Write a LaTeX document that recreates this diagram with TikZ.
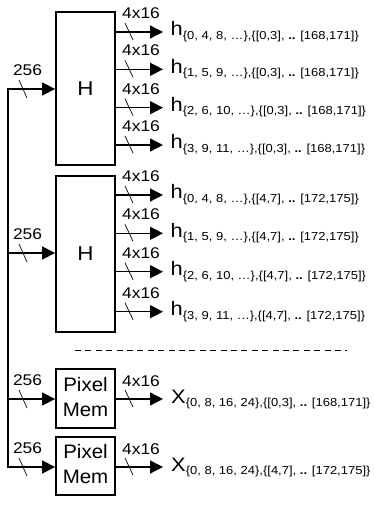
\documentclass[tikz,border=0pt]{standalone}
\usepackage{fontspec}
\setmainfont{Liberation Sans}
\usepackage{graphicx}
\usetikzlibrary{arrows.meta}
\newcommand\wide[1]{\scalebox{1.12}[1]{#1}}
\newcommand\sigtext[3]{\wide{{\fontsize{19.5}{20}\selectfont #1}\raisebox{-3.3pt}{\fontsize{11.6}{12}\selectfont\{#2\},\{#3\}}}}
\begin{document}
\begin{tikzpicture}[x=1pt,y=-1pt,
  box/.style={draw, line width=1.8pt, inner sep=0, minimum width=59pt},
  arr/.style={line width=1.4pt, -{Triangle[length=13pt,width=13pt]}},
  slash/.style={line width=0.7pt},
  lbl/.style={inner sep=0, font=\fontsize{15.5}{15.5}\selectfont},
  sig/.style={inner sep=0, anchor=base west},
  sep/.style={line width=0.8pt, dash pattern=on 6pt off 4.4pt},
]
\useasboundingbox (0,0) rectangle (373,510);

% blocks
\node[box, minimum height=153pt] (H1) at (85.5,88.5) {\wide{\fontsize{20}{20}\selectfont H}};
\node[box, minimum height=156pt] (H2) at (85.5,254) {\wide{\fontsize{20}{20}\selectfont H}};
\node[box, minimum height=59pt] (P1) at (85.5,398.5) {\fontsize{19.5}{25}\selectfont\scalebox{1.05}[1]{\begin{tabular}{@{}c@{}}Pixel\\Mem\end{tabular}}};
\node[box, minimum height=58pt] (P2) at (85.5,466) {\fontsize{19.5}{25}\selectfont\scalebox{1.05}[1]{\begin{tabular}{@{}c@{}}Pixel\\Mem\end{tabular}}};

% input bus
\coordinate (b1) at (8,89);
\coordinate (b2) at (8,253);
\coordinate (b3) at (8,399);
\coordinate (b4) at (8,467);
\draw[arr] (b4) -- (b1) -- (H1.west |- b1);
\draw[arr] (b1) -- (b4) -- (P2.west |- b4);
\draw[arr] (b2) -- (H2.west |- b2);
\draw[arr] (b3) -- (P1.west |- b3);
\foreach \k/\y in {1/89,2/253,3/399,4/467}{
  \draw[slash] (19,{\y-9}) -- (27,{\y+9});
  \node[lbl] (in\k) at (27.5,{\y-19}) {\wide{256}};
}

% outputs of first H
\foreach \i/\y/\s in {1/32/{0, 4, 8, …},2/69.3/{1, 5, 9, …},3/107.7/{2, 6, 10, …},4/145/{3, 9, 11, …}}{
  \coordinate (oA\i) at (163,\y);
  \draw[arr] (H1.east |- oA\i) -- (oA\i);
  \draw[slash] (125,{\y-9}) -- (133,{\y+8});
  \node[lbl] (wA\i) at (141,{\y-19}) {\wide{4x16}};
  \node[sig] (hA\i) at (170.5,{\y+4}) {\sigtext{h}{\s}{[0,3], \textbf{..} [168,171]}};
}
% outputs of second H
\foreach \i/\y/\s in {1/195/{0, 4, 8, …},2/233.3/{1, 5, 9, …},3/271.7/{2, 6, 10, …},4/311.7/{3, 9, 11, …}}{
  \coordinate (oB\i) at (163,\y);
  \draw[arr] (H2.east |- oB\i) -- (oB\i);
  \draw[slash] (125,{\y-9}) -- (133,{\y+8});
  \node[lbl] (wB\i) at (141,{\y-19}) {\wide{4x16}};
  \node[sig] (hB\i) at (170.5,{\y+4}) {\sigtext{h}{\s}{[4,7], \textbf{..} [172,175]}};
}

% separator
\coordinate (d1) at (75,350);
\coordinate (d2) at (347,350);
\draw[sep] (d1) -- (d2);

% pixel memory outputs
\coordinate (oP1) at (163,399);
\coordinate (oP2) at (163,467);
\draw[arr] (P1.east |- oP1) -- (oP1);
\draw[arr] (P2.east |- oP2) -- (oP2);
\foreach \k/\y in {1/399,2/467}{
  \draw[slash] (125,{\y-9}) -- (133,{\y+8});
  \node[lbl] (wP\k) at (141,{\y-18}) {\wide{4x16}};
}
\node[sig] (x1) at (171,403.5) {\sigtext{X}{0, 8, 16, 24}{[0,3], \textbf{..} [168,171]}};
\node[sig] (x2) at (171,471.5) {\sigtext{X}{0, 8, 16, 24}{[4,7], \textbf{..} [172,175]}};
\end{tikzpicture}
\end{document}
